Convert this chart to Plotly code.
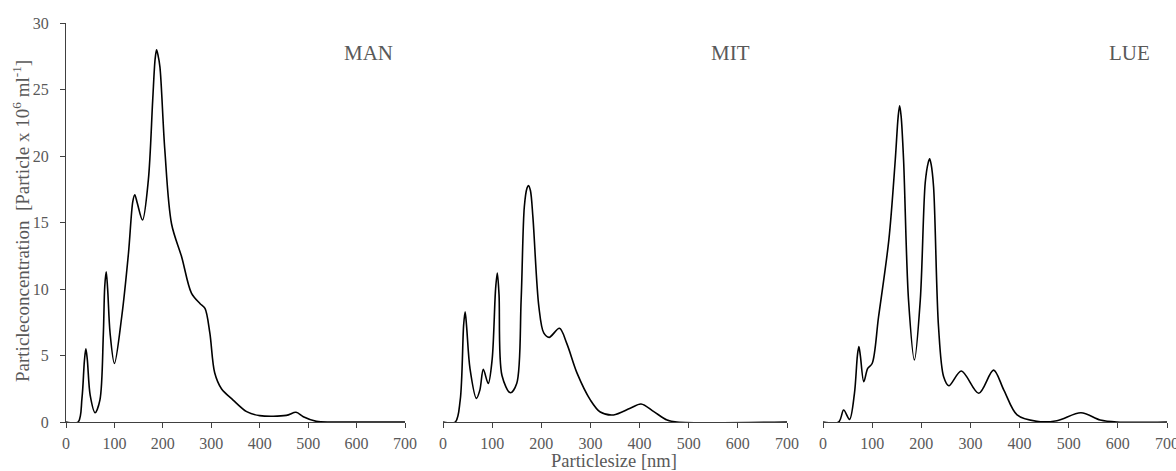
import plotly.graph_objects as go

# ---- data ----
man_x = [0, 25, 33, 38, 41, 44, 50, 60, 70, 77, 80, 83, 86, 91, 100, 115, 129, 138, 142, 147, 158, 170, 179, 184, 187, 190, 194, 204, 218, 239, 259, 277, 287, 297, 307, 321, 345, 373, 400, 455, 475, 490, 517, 552, 700]
man_y = [0, 0, 1.8, 4.6, 5.5, 4.7, 2.0, 0.7, 1.65, 6.5, 10.2, 11.3, 10.0, 6.7, 4.4, 7.9, 12.7, 16.6, 17.1, 16.5, 15.2, 18.2, 24.2, 27.3, 28.0, 27.6, 26.7, 20.5, 14.9, 12.4, 9.7, 8.9, 8.55, 6.7, 3.7, 2.5, 1.65, 0.78, 0.48, 0.5, 0.73, 0.4, 0.05, 0, 0]

mit_x = [0, 25, 35, 42, 45, 48, 55, 68, 75, 82, 92, 100, 107, 110.5, 114, 120, 137, 150, 159, 165.5, 171, 174, 178, 183, 195, 205, 216, 237, 252, 273, 300, 320, 347, 381, 403, 429, 456, 476, 700]
mit_y = [0, 0, 1.65, 7.3, 8.3, 7.2, 4.0, 1.78, 2.4, 3.96, 2.9, 4.7, 10.0, 11.2, 9.6, 3.5, 2.2, 2.9, 9.2, 16.2, 17.6, 17.8, 17.4, 15.4, 8.7, 6.7, 6.37, 7.05, 5.9, 3.66, 1.65, 0.75, 0.53, 1.03, 1.35, 0.78, 0.15, 0, 0]

lue_x = [0, 32, 42, 54, 64, 70, 73, 76, 83, 91, 100, 113, 134, 147, 153, 156, 159, 164, 174, 186, 198, 208, 214, 217, 220, 225, 235, 245.5, 256, 281.5, 317, 347, 368, 395, 435, 476, 525, 564, 598, 700]
lue_y = [0, 0, 0.9, 0.2, 2.16, 5.0, 5.67, 5.0, 3.03, 4.04, 4.4, 7.9, 13.7, 19.7, 23.0, 23.8, 23.0, 19.7, 9.2, 4.66, 9.2, 18.0, 19.5, 19.8, 19.4, 17.7, 7.2, 3.4, 2.73, 3.84, 2.16, 3.9, 2.4, 0.53, 0.05, 0.1, 0.7, 0.15, 0, 0]

panel_names = ["MAN", "MIT", "LUE"]
x_ticks = [0, 100, 200, 300, 400, 500, 600, 700]
y_ticks = [0, 5, 10, 15, 20, 25, 30]

W, H = 1176, 471
FONT = "Liberation Serif"
GREY = "#595959"
AXC = "#404040"

fig = go.Figure()
series = [(man_x, man_y), (mit_x, mit_y), (lue_x, lue_y)]
for i, (xs, ys) in enumerate(series):
    sfx = "" if i == 0 else str(i + 1)
    fig.add_trace(go.Scatter(
        x=xs, y=ys, mode="lines", line=dict(color="black", width=1.6, shape="spline", smoothing=0.9),
        xaxis="x" + sfx, yaxis="y" + sfx, showlegend=False, hoverinfo="skip"))

xdoms = [(66, 405), (443, 787), (823, 1167)]
ydom = [(H - 422) / H, (H - 23.3) / H]

layout = dict(
    width=W, height=H, margin=dict(l=0, r=0, t=0, b=0),
    paper_bgcolor="white", plot_bgcolor="white",
    font=dict(family=FONT, color=GREY, size=16),
    showlegend=False,
)
for i, (a, b) in enumerate(xdoms):
    sfx = "" if i == 0 else str(i + 1)
    layout["xaxis" + sfx] = dict(
        domain=[a / W, b / W], range=[0, 700], anchor="y" + sfx,
        tickvals=x_ticks, ticktext=[str(v) for v in x_ticks],
        showline=True, linecolor=AXC, linewidth=1.3, ticks="outside", ticklen=5,
        tickcolor=AXC, tickwidth=1.3, showgrid=False, zeroline=False,
        tickfont=dict(family=FONT, size=16, color=GREY), ticklabelstandoff=2,
        ticklabeloverflow="allow",
        automargin=False, fixedrange=True,
    )
    layout["yaxis" + sfx] = dict(
        domain=ydom, range=[0, 30], anchor="x" + sfx,
        tickvals=y_ticks, showgrid=False, zeroline=False,
        showline=(i == 0), linecolor=AXC, linewidth=1.3,
        ticks="outside" if i == 0 else "", ticklen=5, tickcolor=AXC, tickwidth=1.3,
        showticklabels=(i == 0),
        tickfont=dict(family=FONT, size=16, color=GREY), ticklabelstandoff=8,
        automargin=False, fixedrange=True,
    )

annots = []
for name, cx in zip(panel_names, [368, 730, 1129]):
    annots.append(dict(text=name, x=cx / W, y=1 - 53 / H, xref="paper", yref="paper",
                       showarrow=False, xanchor="center", yanchor="middle",
                       font=dict(family=FONT, size=21, color=GREY)))
annots.append(dict(text="Particlesize [nm]", x=614 / W, y=1 - 461 / H, xref="paper", yref="paper",
                   showarrow=False, xanchor="center", yanchor="middle",
                   font=dict(family=FONT, size=18.5, color=GREY)))
annots.append(dict(text="Particleconcentration  [Particle x 10<sup>6</sup> ml<sup>-1</sup>]",
                   x=21 / W, y=1 - 221 / H, xref="paper", yref="paper", textangle=-90,
                   showarrow=False, xanchor="center", yanchor="middle",
                   font=dict(family=FONT, size=19, color=GREY)))
layout["annotations"] = annots

fig.update_layout(**layout)
fig.write_html("out.html")
